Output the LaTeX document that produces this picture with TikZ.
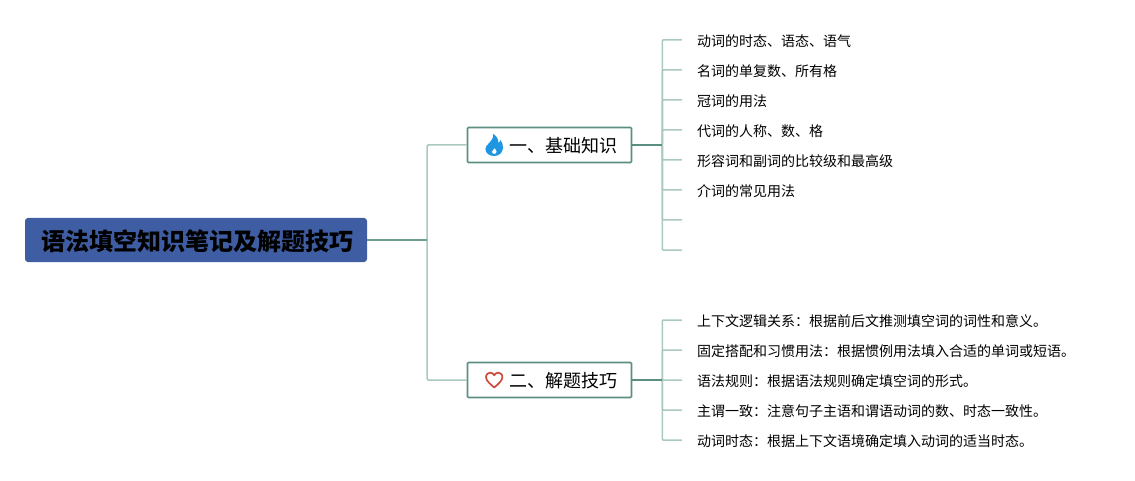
\documentclass[tikz,border=0pt]{standalone}
\usepackage{fontspec}
\setmainfont{Noto Sans CJK SC}
\usepackage{tikz}
\usetikzlibrary{positioning}
\definecolor{rootblue}{HTML}{3F5DA3}
\definecolor{boxgreen}{HTML}{5B8F82}
\definecolor{twiggreen}{HTML}{A9C9BF}
\definecolor{fireblue}{HTML}{1E96E2}
\definecolor{heartred}{HTML}{D0493A}

\begin{document}
\begin{tikzpicture}[
		x=1pt, y=1pt,
		root/.style={rectangle, fill=rootblue, rounded corners=3pt, minimum width=342pt, minimum height=44pt, inner sep=0pt, text height=26pt, text depth=4.8pt, font=\fontsize{24pt}{28pt}\selectfont\bfseries},
		branch/.style={rectangle, draw=boxgreen, fill=white, line width=1.6pt, rounded corners=1pt, minimum width=164pt, minimum height=35pt, inner sep=0pt, text height=20pt, text depth=4.2pt, font=\fontsize{18pt}{22pt}\selectfont},
		leaf/.style={inner xsep=15pt, inner ysep=0pt, text height=15.6pt, text depth=2pt, font=\fontsize{14pt}{17pt}\selectfont},
		nextleaf/.style={below=30pt of #1.west, anchor=west},
		limb/.style={draw=twiggreen, line width=1.5pt, rounded corners=1pt},
		stem/.style={draw=boxgreen, line width=1.8pt},
		twig/.style={draw=twiggreen, line width=1.5pt, rounded corners=1pt}
		]
		\useasboundingbox (0,0) rectangle (1135,480);
		
		% Root on the left
		\node[root] (root) at (196,240) {\hspace*{2.5pt}语法填空知识笔记及解题技巧};
		
		% Two branches
		\node[branch, right=99.5pt of root, yshift=95pt] (basics) {\hspace*{27pt}一、基础知识};
		\node[branch, right=99.5pt of root, yshift=-140pt] (skills) {\hspace*{27pt}二、解题技巧};
		
		% Leaves of the first branch
		\node[leaf, right=49.5pt of basics, yshift=105pt, anchor=west] (verb) {动词的时态、语态、语气};
		\node[leaf, nextleaf=verb] (noun) {名词的单复数、所有格};
		\node[leaf, nextleaf=noun] (article) {冠词的用法};
		\node[leaf, nextleaf=article] (pronoun) {代词的人称、数、格};
		\node[leaf, nextleaf=pronoun] (adj) {形容词和副词的比较级和最高级};
		\node[leaf, nextleaf=adj] (prep) {介词的常见用法};
		\coordinate[nextleaf=prep] (blanka);
		\coordinate[below=30pt of blanka] (blankb);
		
		% Leaves of the second branch
		\node[leaf, right=49.5pt of skills, yshift=60pt, anchor=west] (context) {上下文逻辑关系：根据前后文推测填空词的词性和意义。};
		\node[leaf, nextleaf=context] (phrase) {固定搭配和习惯用法：根据惯例用法填入合适的单词或短语。};
		\node[leaf, nextleaf=phrase] (rule) {语法规则：根据语法规则确定填空词的形式。};
		\node[leaf, nextleaf=rule] (agree) {主谓一致：注意句子主语和谓语动词的数、时态一致性。};
		\node[leaf, nextleaf=agree] (tense) {动词时态：根据上下文语境确定填入动词的适当时态。};
		
		% Connectors
		\draw[limb] (root.east) -- ++(60,0) |- (basics.west);
		\draw[limb] (root.east) -- ++(60,0) |- (skills.west);
		\draw[limb, draw=boxgreen!75!twiggreen] (root.east) -- ++(60,0);
		
		\draw[twig] (basics.east) -- ++(30,0) |- (verb.west);
		\draw[twig] (basics.east) -- ++(30,0) |- (noun.west);
		\draw[twig] (basics.east) -- ++(30,0) |- (article.west);
		\draw[twig] (basics.east) -- ++(30,0) |- (pronoun.west);
		\draw[twig] (basics.east) -- ++(30,0) |- (adj.west);
		\draw[twig] (basics.east) -- ++(30,0) |- (prep.west);
		\draw[twig] (basics.east) -- ++(30,0) |- (blanka);
		\draw[twig] (basics.east) -- ++(30,0) |- (blankb);
		\draw[stem] (basics.east) -- ++(30,0);
		
		\draw[twig] (skills.east) -- ++(30,0) |- (context.west);
		\draw[twig] (skills.east) -- ++(30,0) |- (phrase.west);
		\draw[twig] (skills.east) -- ++(30,0) |- (rule.west);
		\draw[twig] (skills.east) -- ++(30,0) |- (agree.west);
		\draw[twig] (skills.east) -- ++(30,0) |- (tense.west);
		\draw[stem] (skills.east) -- ++(30,0);
		
		% Icons inside the branches
		\begin{scope}[shift={([xshift=27.5pt]basics.west)}]
			\fill[fireblue, even odd rule] (0,-11) .. controls (5.5,-11) and (8.8,-7) .. (8.8,-2.5)
				.. controls (8.8,0.5) and (7.8,3) .. (6.3,5) .. controls (5.8,3.5) and (5.2,2.5) .. (4.2,2)
				.. controls (4.2,6) and (2.5,9) .. (-1,11) .. controls (-0.5,7) and (-3,4.5) .. (-5,2)
				.. controls (-7.5,-0.5) and (-8.8,-2) .. (-8.8,-4) .. controls (-8.8,-8) and (-5,-11) .. (0,-11)
				(0,-9) .. controls (-1.8,-9) and (-2.6,-7.5) .. (-2.2,-6.3) .. controls (-1.8,-5) and (-0.4,-4.3) .. (0.4,-3)
				.. controls (1.5,-4.5) and (2.6,-5.5) .. (2.4,-6.8) .. controls (2.2,-8.2) and (1.4,-9) .. (0,-9);
		\end{scope}
		\begin{scope}[shift={([xshift=27.5pt]skills.west)}]
			\draw[heartred, line width=1.7pt, line join=round] (0,-7.5) .. controls (-3,-4.8) and (-8.2,-1) .. (-8.2,2.8)
				.. controls (-8.2,6) and (-5.8,7.3) .. (-4,7.3) .. controls (-2.2,7.3) and (-0.8,6.3) .. (0,4.8)
				.. controls (0.8,6.3) and (2.2,7.3) .. (4,7.3) .. controls (5.8,7.3) and (8.2,6) .. (8.2,2.8)
				.. controls (8.2,-1) and (3,-4.8) .. (0,-7.5) -- cycle;
		\end{scope}
		
	\end{tikzpicture}
\end{document}
